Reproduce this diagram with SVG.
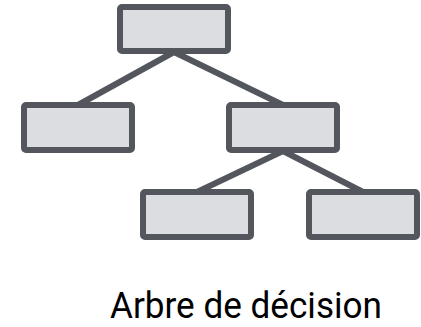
<svg xmlns="http://www.w3.org/2000/svg" width="421" height="327" viewBox="0 0 421 327">
<style>
.n{fill:#dcdde0;stroke:#53575d;stroke-width:6;stroke-linejoin:round}
.c{stroke:#53575d;stroke-width:6;fill:none}
.t{font-family:Roboto,"Liberation Sans",sans-serif;font-size:37px;fill:#000}
</style>
<rect width="421" height="327" fill="#fff"/>
<g id="connectors">
<line class="c" x1="174" y1="52" x2="78" y2="105"/>
<line class="c" x1="174" y1="52" x2="283" y2="105"/>
<line class="c" x1="283" y1="151" x2="197" y2="192"/>
<line class="c" x1="283" y1="151" x2="363" y2="192"/>
</g>
<g id="root"><rect class="n" x="120" y="7" width="108" height="44" rx="2"/></g>
<g id="left"><rect class="n" x="24" y="105" width="108" height="45" rx="2"/></g>
<g id="right"><rect class="n" x="229" y="105" width="108" height="45" rx="2"/></g>
<g id="bottom-left"><rect class="n" x="143" y="192" width="108" height="45" rx="2"/></g>
<g id="bottom-right"><rect class="n" x="309" y="192" width="108" height="45" rx="2"/></g>
<text class="t" x="110" y="318" textLength="272" lengthAdjust="spacingAndGlyphs">Arbre de décision</text>
</svg>
